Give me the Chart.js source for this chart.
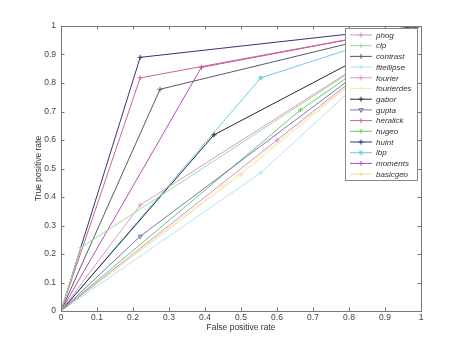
<!DOCTYPE html>
<html><head><meta charset="utf-8">
<script src="https://cdn.jsdelivr.net/npm/chart.js@4/dist/chart.umd.min.js"></script>
<style>html,body{margin:0;padding:0;background:#fff;}canvas{display:block;}</style>
</head><body>
<canvas id="c" width="465" height="349"></canvas>
<script>
// ---- data ----
const names = ['phog','clp','contrast','fitellipse','fourier','fourierdes','gabor','gupta','heralick','hugeo','huint','lbp','moments','basicgeo'];
const fpr = [0.60, 0.055, 0.275, 0.555, 0.22, 0.45, 0.425, 0.22, 0.22, 0.665, 0.22, 0.555, 0.39, 0.50];
const tpr = [0.60, 0.222, 0.778, 0.485, 0.372, 0.44, 0.618, 0.262, 0.818, 0.705, 0.890, 0.818, 0.855, 0.48];
const xTicks = [0,0.1,0.2,0.3,0.4,0.5,0.6,0.7,0.8,0.9,1];
const yTicks = [0,0.1,0.2,0.3,0.4,0.5,0.6,0.7,0.8,0.9,1];

// ---- styles ----
const colors = ['#c898c8','#9cdc9c','#5a5a68','#b0e4f2','#e496be','#f2eebc','#2a2a2a','#7878b0','#d0668a','#6cc86c','#34347a','#6ccbe8','#b450b4','#f6dc9c'];
const markers = ['cross','cross','cross','cross','cross','cross','cross','triangle','cross','cross','cross','star','cross','cross'];
const rotations = [0,0,0,0,0,0,0,180,0,0,0,0,0,0];

const datasets = names.map((n,i)=>({
  label:n,
  data:[{x:0,y:0},{x:fpr[i],y:tpr[i]},{x:1,y:1}],
  borderColor:colors[i],
  backgroundColor:'rgba(0,0,0,0)',
  borderWidth:1,
  pointStyle:markers[i],
  pointRotation:rotations[i],
  pointRadius:[0,2.5,0],
  pointBorderColor:colors[i],
  pointBackgroundColor:'rgba(0,0,0,0)',
  pointBorderWidth:1,
  tension:0
}));

const fmt = v => String(Math.round(v*10)/10);

const frame = {
  id:'frame',
  afterDraw(chart){
    const {ctx, chartArea:a, scales:{x,y}} = chart;
    ctx.save();
    ctx.strokeStyle='#777'; ctx.lineWidth=1;
    ctx.strokeRect(a.left+0.5,a.top+0.5,a.right-a.left,a.bottom-a.top);
    ctx.beginPath();
    xTicks.forEach(v=>{const p=Math.round(x.getPixelForValue(v))+0.5;
      ctx.moveTo(p,a.bottom); ctx.lineTo(p,a.bottom-3.5);
      ctx.moveTo(p,a.top); ctx.lineTo(p,a.top+3.5);});
    yTicks.forEach(v=>{const p=Math.round(y.getPixelForValue(v))+0.5;
      ctx.moveTo(a.left,p); ctx.lineTo(a.left+3.5,p);
      ctx.moveTo(a.right,p); ctx.lineTo(a.right-3.5,p);});
    ctx.stroke();
    // legend
    const bx=345.5, by=28.5, bw=72, bh=152;
    ctx.fillStyle='#fff'; ctx.fillRect(bx,by,bw,bh);
    ctx.strokeStyle='#888'; ctx.strokeRect(bx,by,bw,bh);
    ctx.font='italic 8px "Liberation Sans", Arial, sans-serif';
    ctx.textBaseline='middle'; ctx.textAlign='left';
    chart.data.datasets.forEach((d,i)=>{
      const yy = 35 + i*10.7;
      ctx.strokeStyle=d.borderColor; ctx.lineWidth=1;
      ctx.beginPath(); ctx.moveTo(350,yy); ctx.lineTo(372,yy); ctx.stroke();
      ctx.fillStyle='rgba(0,0,0,0)';
      Chart.helpers.drawPoint(ctx,{pointStyle:d.pointStyle,rotation:d.pointRotation,radius:2.5,borderWidth:1},361,yy);
      ctx.fillStyle='#333';
      ctx.fillText(d.label,376,yy+0.5);
    });
    ctx.restore();
  }
};

const fontFam = '"Liberation Sans", Arial, sans-serif';
new Chart(document.getElementById('c'),{
  type:'line',
  data:{datasets},
  options:{
    responsive:false, animation:false,
    layout:{padding:{top:26,right:44,left:0,bottom:0}},
    plugins:{legend:{display:false},tooltip:{enabled:false}},
    elements:{line:{fill:false}},
    scales:{
      x:{type:'linear',min:0,max:1,
        afterFit:s=>{s.height=38;},
        afterBuildTicks:s=>{s.ticks=xTicks.map(v=>({value:v}));},
        ticks:{font:{size:8.5,family:fontFam},color:'#444',padding:2,maxRotation:0,autoSkip:false,callback:fmt},
        grid:{display:false,drawTicks:false},
        border:{display:false},
        title:{display:true,text:'False positive rate',color:'#333',font:{size:8.5,family:fontFam},padding:{top:0,bottom:16}}
      },
      y:{type:'linear',min:0,max:1,
        afterFit:s=>{s.width=61;},
        afterBuildTicks:s=>{s.ticks=yTicks.map(v=>({value:v}));},
        ticks:{font:{size:8.5,family:fontFam},color:'#444',padding:5,autoSkip:false,callback:fmt},
        grid:{display:false,drawTicks:false},
        border:{display:false},
        title:{display:true,text:'True positive rate',color:'#333',font:{size:8.5,family:fontFam},padding:{top:34,bottom:0}}
      }
    }
  },
  plugins:[frame]
});
</script>
</body></html>
